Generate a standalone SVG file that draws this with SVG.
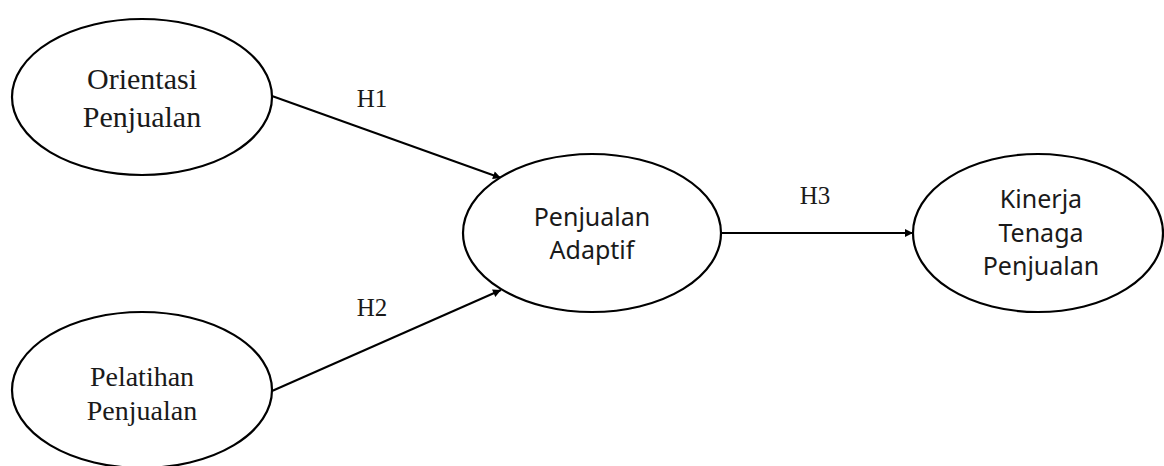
<svg xmlns="http://www.w3.org/2000/svg" width="1164" height="466" viewBox="0 0 1164 466">
<style>
.n{fill:#fff;stroke:#000;stroke-width:2.2}
.c{fill:none;stroke:#000;stroke-width:2}
.serif{font-family:"Liberation Serif","Times New Roman",serif;fill:#1a1a1a;text-anchor:middle}
.sans{font-family:"Noto Sans","Open Sans",sans-serif;fill:#1a1a1a;text-anchor:middle;font-size:25px}
.lbl{font-family:"Liberation Serif","Times New Roman",serif;fill:#1a1a1a;text-anchor:middle;font-size:25px}
</style>
<defs>
<marker id="ah" viewBox="0 0 10 10" refX="10" refY="5" markerWidth="10" markerHeight="8" markerUnits="userSpaceOnUse" orient="auto">
<path d="M0,0 L10,5 L0,10 z" fill="#000"/>
</marker>
</defs>
<g id="connectors">
<line class="c" x1="272" y1="96" x2="501" y2="178" marker-end="url(#ah)"/>
<line class="c" x1="272" y1="391" x2="501" y2="290" marker-end="url(#ah)"/>
<line class="c" x1="722" y1="233" x2="913" y2="233" marker-end="url(#ah)"/>
<text class="lbl" x="372" y="107">H1</text>
<text class="lbl" x="372" y="316">H2</text>
<text class="lbl" x="815" y="204">H3</text>
</g>
<g id="orientasi">
<ellipse class="n" cx="142" cy="97" rx="130" ry="78"/>
<text class="serif" font-size="30" x="142" y="89">Orientasi</text>
<text class="serif" font-size="30" x="142" y="127">Penjualan</text>
</g>
<g id="pelatihan">
<ellipse class="n" cx="142" cy="390" rx="130" ry="78"/>
<text class="serif" font-size="28" x="142" y="386">Pelatihan</text>
<text class="serif" font-size="28" x="142" y="420">Penjualan</text>
</g>
<g id="adaptif">
<ellipse class="n" cx="592" cy="233" rx="129" ry="79"/>
<text class="sans" x="592" y="226">Penjualan</text>
<text class="sans" x="592" y="259">Adaptif</text>
</g>
<g id="kinerja">
<ellipse class="n" cx="1038" cy="233" rx="125" ry="79"/>
<text class="sans" x="1041" y="208">Kinerja</text>
<text class="sans" x="1041" y="242">Tenaga</text>
<text class="sans" x="1041" y="275">Penjualan</text>
</g>
</svg>
